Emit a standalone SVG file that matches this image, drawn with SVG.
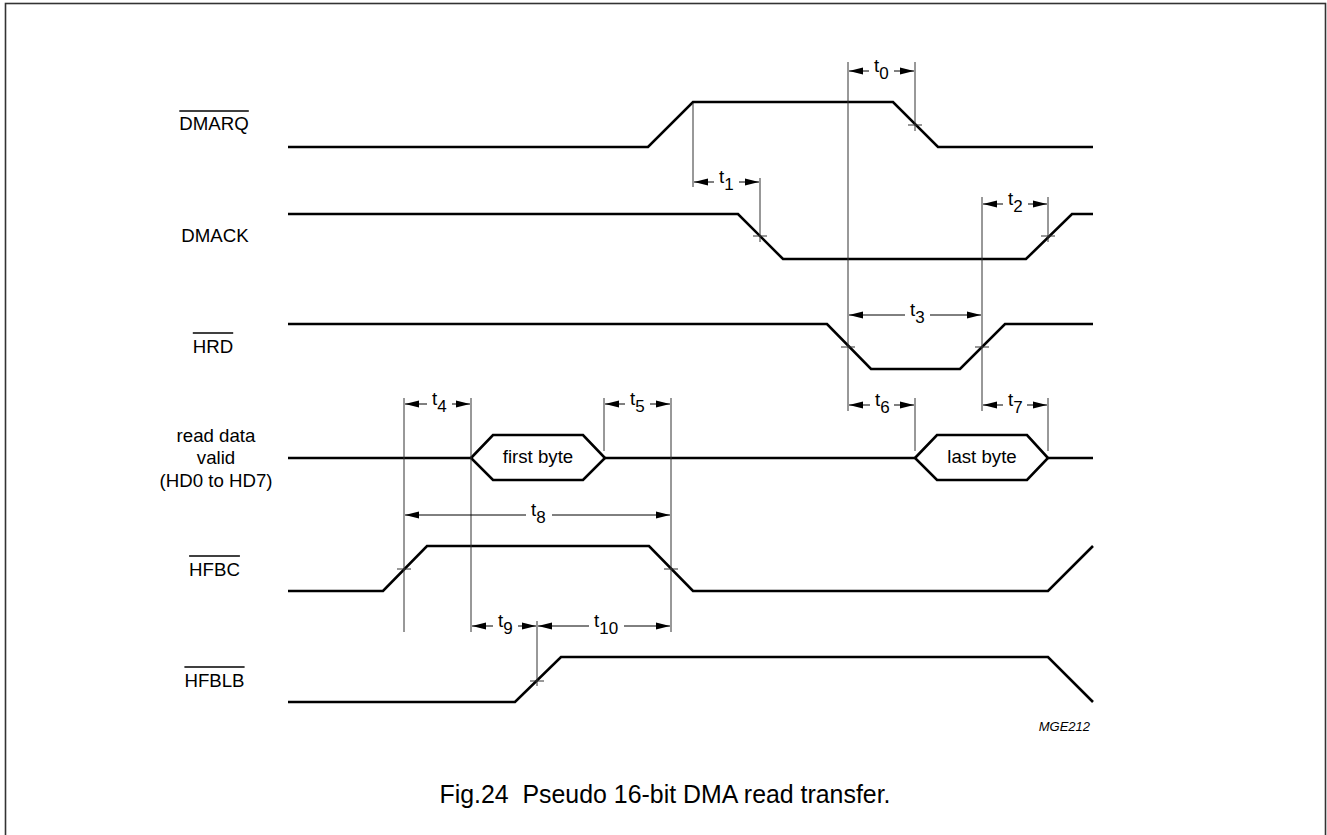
<svg xmlns="http://www.w3.org/2000/svg" width="1327" height="835" viewBox="0 0 1327 835">
<style>
.sig{fill:none;stroke:#000;stroke-width:2.6;stroke-linejoin:miter;stroke-linecap:butt}
.guide{fill:none;stroke:#333;stroke-width:1}
.arr{fill:none;stroke:#000;stroke-width:1}
.lbl{font-family:"Liberation Sans",Arial,sans-serif;font-size:18.67px;fill:#000}
.ov{stroke:#000;stroke-width:1.3}
.t{font-family:"Liberation Sans",Arial,sans-serif;font-size:18.67px;fill:#000}
.sub{font-size:17px}
</style>
<defs>
<marker id="ah" viewBox="0 0 14 8" refX="14" refY="4" markerWidth="14" markerHeight="8" markerUnits="userSpaceOnUse" orient="auto-start-reverse">
<path d="M0,0.5 L14,4 L0,7.5 Z" fill="#000"/>
</marker>
</defs>
<rect x="5.5" y="3.5" width="1320" height="840" fill="#fff" stroke="#333" stroke-width="1.6"/>

<g id="DMARQ">
<text class="lbl" x="214" y="129.5" text-anchor="middle">DMARQ</text>
<line class="ov" x1="179.3" y1="111" x2="248.8" y2="111"/>
<path class="sig" d="M288,147 H648 L693,102 H893 L938,147 H1093"/>
</g>
<g id="DMACK">
<text class="lbl" x="215" y="241.7" text-anchor="middle">DMACK</text>
<path class="sig" d="M288,214 H738 L783,259 H1026 L1072,214 H1093"/>
</g>
<g id="HRD">
<text class="lbl" x="213" y="353" text-anchor="middle">HRD</text>
<line class="ov" x1="192.8" y1="333" x2="233.2" y2="333"/>
<path class="sig" d="M288,324 H827 L871,369 H960 L1005,324 H1093"/>
</g>
<g id="DATA">
<text class="lbl" x="216" y="442" text-anchor="middle">read data</text>
<text class="lbl" x="216" y="464" text-anchor="middle">valid</text>
<text class="lbl" x="216" y="487" text-anchor="middle">(HD0 to HD7)</text>
<path class="sig" d="M288,458 H471 M605,458 H915 M1048,458 H1093"/>
<path class="sig" d="M471,458 L493,435 H583 L605,458 L583,480 H493 Z"/>
<path class="sig" d="M915,458 L937,435 H1027 L1048,458 L1027,480 H937 Z"/>
<text class="lbl" x="538" y="463" text-anchor="middle">first byte</text>
<text class="lbl" x="982" y="463" text-anchor="middle">last byte</text>
</g>
<g id="HFBC">
<text class="lbl" x="214.5" y="576" text-anchor="middle">HFBC</text>
<line class="ov" x1="189.1" y1="556" x2="239.9" y2="556"/>
<path class="sig" d="M288,591 H383 L427,546 H649 L693,591 H1048 L1093,546"/>
</g>
<g id="HFBLB">
<text class="lbl" x="214.5" y="687" text-anchor="middle">HFBLB</text>
<line class="ov" x1="184.4" y1="667" x2="244.6" y2="667"/>
<path class="sig" d="M288,702 H515 L561,657 H1048 L1093,702"/>
</g>

<g id="timing">
<g id="guides" class="guide">
<line x1="693" y1="103" x2="693" y2="187"/>
<line x1="760" y1="178" x2="760" y2="242"/>
<line x1="848" y1="62" x2="848" y2="411"/>
<line x1="915" y1="62" x2="915" y2="131"/>
<line x1="982" y1="197" x2="982" y2="411"/>
<line x1="1048" y1="197" x2="1048" y2="242"/>
<line x1="915" y1="398" x2="915" y2="451"/>
<line x1="1048" y1="398" x2="1048" y2="451"/>
<line x1="404" y1="398" x2="404" y2="632"/>
<line x1="471" y1="398" x2="471" y2="632"/>
<line x1="604" y1="398" x2="604" y2="451"/>
<line x1="671" y1="398" x2="671" y2="632"/>
<line x1="537" y1="621" x2="537" y2="686"/>
<line x1="908" y1="125" x2="922" y2="125"/>
<line x1="753" y1="236" x2="767" y2="236"/>
<line x1="1041" y1="236" x2="1055" y2="236"/>
<line x1="841" y1="347" x2="855" y2="347"/>
<line x1="975" y1="347" x2="989" y2="347"/>
<line x1="397" y1="569" x2="411" y2="569"/>
<line x1="664" y1="569" x2="678" y2="569"/>
<line x1="530" y1="681" x2="544" y2="681"/>
</g>
<g id="arrows" class="arr">
<line x1="849" y1="71" x2="869" y2="71" marker-start="url(#ah)"/>
<line x1="894" y1="71" x2="914" y2="71" marker-end="url(#ah)"/>
<line x1="694" y1="182" x2="714" y2="182" marker-start="url(#ah)"/>
<line x1="739" y1="182" x2="759" y2="182" marker-end="url(#ah)"/>
<line x1="983" y1="204" x2="1003" y2="204" marker-start="url(#ah)"/>
<line x1="1028" y1="204" x2="1047" y2="204" marker-end="url(#ah)"/>
<line x1="849" y1="315" x2="905" y2="315" marker-start="url(#ah)"/>
<line x1="930" y1="315" x2="981" y2="315" marker-end="url(#ah)"/>
<line x1="405" y1="404" x2="427" y2="404" marker-start="url(#ah)"/>
<line x1="452" y1="404" x2="470" y2="404" marker-end="url(#ah)"/>
<line x1="605" y1="404" x2="625" y2="404" marker-start="url(#ah)"/>
<line x1="650" y1="404" x2="670" y2="404" marker-end="url(#ah)"/>
<line x1="849" y1="405" x2="870" y2="405" marker-start="url(#ah)"/>
<line x1="894" y1="405" x2="914" y2="405" marker-end="url(#ah)"/>
<line x1="983" y1="405" x2="1003" y2="405" marker-start="url(#ah)"/>
<line x1="1027" y1="405" x2="1047" y2="405" marker-end="url(#ah)"/>
<line x1="405" y1="515" x2="526" y2="515" marker-start="url(#ah)"/>
<line x1="552" y1="515" x2="670" y2="515" marker-end="url(#ah)"/>
<line x1="472" y1="626" x2="493" y2="626" marker-start="url(#ah)"/>
<line x1="518" y1="626" x2="536" y2="626" marker-end="url(#ah)"/>
<line x1="538" y1="626" x2="589" y2="626" marker-start="url(#ah)"/>
<line x1="624" y1="626" x2="670" y2="626" marker-end="url(#ah)"/>
</g>
<g id="tlabels" class="t">
<text x="874" y="72">t<tspan class="sub" dy="7">0</tspan></text>
<text x="719" y="183">t<tspan class="sub" dy="7">1</tspan></text>
<text x="1008" y="205">t<tspan class="sub" dy="7">2</tspan></text>
<text x="910" y="316">t<tspan class="sub" dy="7">3</tspan></text>
<text x="432" y="405">t<tspan class="sub" dy="7">4</tspan></text>
<text x="630" y="405">t<tspan class="sub" dy="7">5</tspan></text>
<text x="875" y="406">t<tspan class="sub" dy="7">6</tspan></text>
<text x="1008" y="406">t<tspan class="sub" dy="7">7</tspan></text>
<text x="531" y="516">t<tspan class="sub" dy="7">8</tspan></text>
<text x="498" y="627">t<tspan class="sub" dy="7">9</tspan></text>
<text x="594" y="627">t<tspan class="sub" dy="7">10</tspan></text>
</g>
</g>

<text x="1090" y="731" text-anchor="end" font-family="Liberation Sans, Arial, sans-serif" font-size="13" font-style="italic">MGE212</text>
<text x="665" y="803" text-anchor="middle" font-family="Liberation Sans, Arial, sans-serif" font-size="24.9" xml:space="preserve">Fig.24  Pseudo 16-bit DMA read transfer.</text>
</svg>
